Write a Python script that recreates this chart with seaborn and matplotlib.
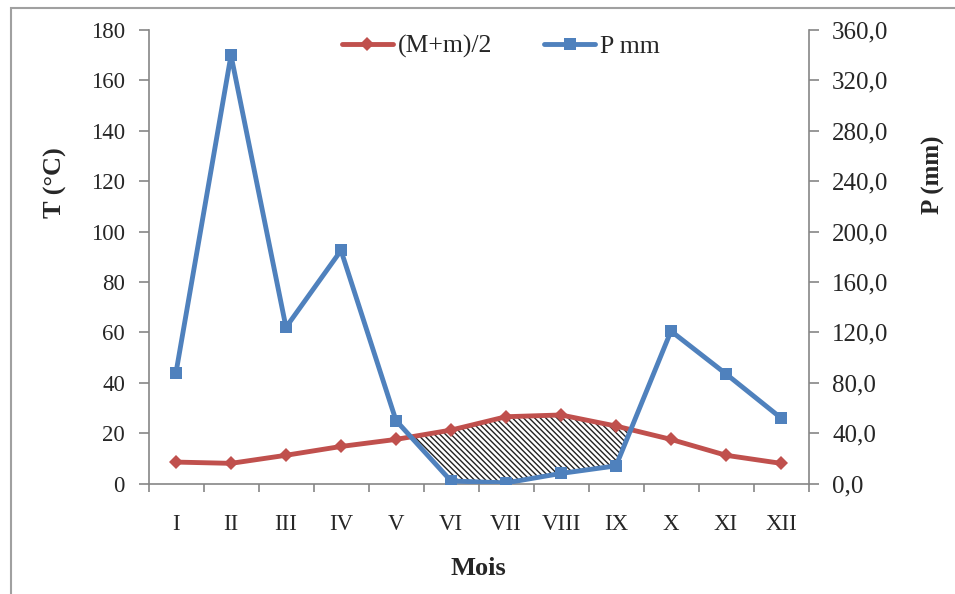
import matplotlib
matplotlib.use("Agg")
import matplotlib.pyplot as plt
import seaborn as sns
import numpy as np
import pandas as pd

months = ["I", "II", "III", "IV", "V", "VI", "VII", "VIII", "IX", "X", "XI", "XII"]
temp = [8.5, 8.0, 11.2, 14.7, 17.5, 21.2, 26.5, 27.2, 22.8, 17.5, 11.2, 8.0]
precip = [88.0, 340.0, 124.0, 185.0, 50.0, 2.0, 0.5, 8.0, 14.0, 121.0, 87.0, 52.0]

sns.set_theme(style="white")
plt.rcParams["font.family"] = ["Liberation Serif", "DejaVu Serif"]
plt.rcParams["hatch.linewidth"] = 1.0

red = "#C0504D"
blue = "#4F81BD"
grey = "#868686"

df = pd.DataFrame({"x": np.arange(len(months)), "T": temp, "P": precip})

fig = plt.figure(figsize=(9.55, 5.94), dpi=100)
ax = fig.add_axes([148.5 / 955, 1 - 483.5 / 594, (808.5 - 148.5) / 955, (483.5 - 30) / 594])
ax2 = ax.twinx()

x = df["x"].to_numpy(dtype=float)
T = df["T"].to_numpy()
Phalf = df["P"].to_numpy() / 2.0
ax.fill_between(x, T, Phalf, where=T > Phalf, interpolate=True,
                facecolor="white", edgecolor="#222222", hatch="\\\\\\\\\\\\", linewidth=0, zorder=1)

sns.lineplot(data=df, x="x", y="T", ax=ax, color=red, lw=3.5, marker="D",
             markersize=7, markeredgewidth=0, label="(M+m)/2", legend=False, zorder=3)
sns.lineplot(data=df, x="x", y="P", ax=ax2, color=blue, lw=3.5, marker="s",
             markersize=8, markeredgewidth=0, label="P mm", legend=False, zorder=3)

ax.set_xlim(-0.5, 11.5)
ax.set_ylim(0, 180)
ax2.set_ylim(0, 360)
ax.set_yticks(np.arange(0, 181, 20))
ax2.set_yticks(np.arange(0, 361, 40))
ax2.set_yticklabels([f"{v:.1f}".replace(".", ",") for v in np.arange(0, 361, 40)])
ax.set_xticks(np.arange(12))
ax.set_xticklabels(months)
ax.set_xticks(np.arange(-0.5, 12, 1), minor=True)

for a in (ax, ax2):
    for s in a.spines.values():
        s.set_visible(False)
ax.spines["left"].set_visible(True)
ax.spines["bottom"].set_visible(True)
ax2.spines["right"].set_visible(True)
for s in (ax.spines["left"], ax.spines["bottom"], ax2.spines["right"]):
    s.set_color(grey)
    s.set_linewidth(1.2)

ax.tick_params(axis="y", which="major", direction="out", length=7, color=grey, width=1.2,
               labelsize=16.5, pad=10, left=True)
ax.tick_params(axis="x", which="major", length=0, labelsize=16.5, pad=22)
ax.tick_params(axis="x", which="minor", direction="out", length=6, color=grey, width=1.2, bottom=True)
ax2.tick_params(axis="y", direction="out", length=7, color=grey, width=1.2, labelsize=18, pad=10, right=True)

ax.set_xlabel("Mois", fontsize=19, fontweight="bold", labelpad=16)
ax.set_ylabel("T (°C)", fontsize=19, fontweight="bold", labelpad=17)
ax2.set_ylabel("P (mm)", fontsize=18, fontweight="bold", labelpad=24)
ax.yaxis.label.set_y(0.663)
ax2.yaxis.label.set_y(0.68)

h1, l1 = ax.get_legend_handles_labels()
h2, l2 = ax2.get_legend_handles_labels()
ax2.legend(h1 + h2, l1 + l2, loc="upper center", bbox_to_anchor=(0.534, 1.04), ncol=2,
           frameon=False, fontsize=18.5, handlelength=2.0, columnspacing=2.0, handletextpad=0.2)

border = plt.Rectangle((11 / 955, -0.1), 1.2, 1 - 8 / 594 + 0.1, transform=fig.transFigure,
                       fill=False, edgecolor="#A0A0A0", linewidth=1.5)
fig.add_artist(border)

fig.savefig("out.png", dpi=100)
